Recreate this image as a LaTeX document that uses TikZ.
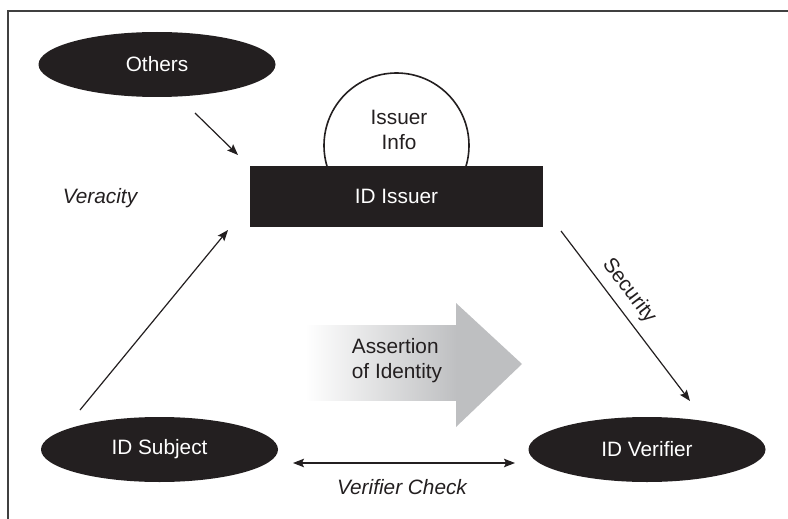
\documentclass[tikz,border=0pt]{standalone}
\usepackage{fontspec}
\setmainfont{Liberation Sans}
\usetikzlibrary{shapes.geometric,arrows.meta}
\definecolor{ink}{RGB}{35,31,32}
\definecolor{agray}{RGB}{190,191,193}
\begin{document}
\begin{tikzpicture}[x=1pt,y=-1pt,
  blob/.style={ellipse, fill=ink, text=white, minimum width=237pt, minimum height=65pt, inner sep=0pt, font=\fontsize{20.8}{24}\selectfont},
  plain/.style={text=ink, font=\fontsize{20.8}{25}\selectfont},
  lbl/.style={text=ink, font=\fontsize{20.8}{24}\selectfont\itshape},
  tip/.tip={Stealth[length=11pt,width=8.5pt,inset=2pt]},
  conn/.style={line width=1.2pt, draw=ink, -tip},
]
\useasboundingbox (0,0) rectangle (788,519);
\draw[line width=1.5pt, draw=black!75] (788,11) -- (8,11) -- (8,519);

% big shaded arrow
\shade[left color=white, right color=agray] (305,325) rectangle (457.5,400);
\fill[agray] (456,303) -- (522,364) -- (456,427) -- cycle;
\node[plain, align=left] (assert) at (397,361) {Assertion\\of Identity};

% nodes
\node[blob] (others) at (157,64.5) {Others};
\node[blob] (subject) at (159.5,449.5) {ID Subject};
\node[blob] (verifier) at (647,449.5) {ID Verifier};
\node[circle, draw=ink, line width=1.6pt, fill=white, minimum size=145pt, inner sep=0pt] (info) at (396.5,145.5) {};
\node[plain, align=center] (infotext) at (399,129.5) {Issuer\\Info};
\node[rectangle, fill=ink, text=white, minimum width=293pt, minimum height=61pt, inner sep=0pt, font=\fontsize{20.8}{24}\selectfont] (issuer) at (396.5,196.5) {ID Issuer};

% connectors
\coordinate (o1) at (195,113); \coordinate (o2) at (238,155);
\draw[conn] (o1) -- (o2);
\coordinate (s1) at (80,410); \coordinate (s2) at (228,230);
\draw[conn] (s1) -- (s2);
\coordinate (e1) at (561,231); \coordinate (e2) at (690,401);
\draw[conn] (e1) -- (e2);
\coordinate (c1) at (293,463); \coordinate (c2) at (515,463);
\draw[conn, tip-tip] (c1) -- (c2);

% labels
\node[lbl] (veracity) at (100,198) {Veracity};
\node[lbl] (vcheck) at (402,487) {Verifier Check};
\node[plain, rotate=-52.8] (security) at (629,291) {Security};
\end{tikzpicture}
\end{document}
